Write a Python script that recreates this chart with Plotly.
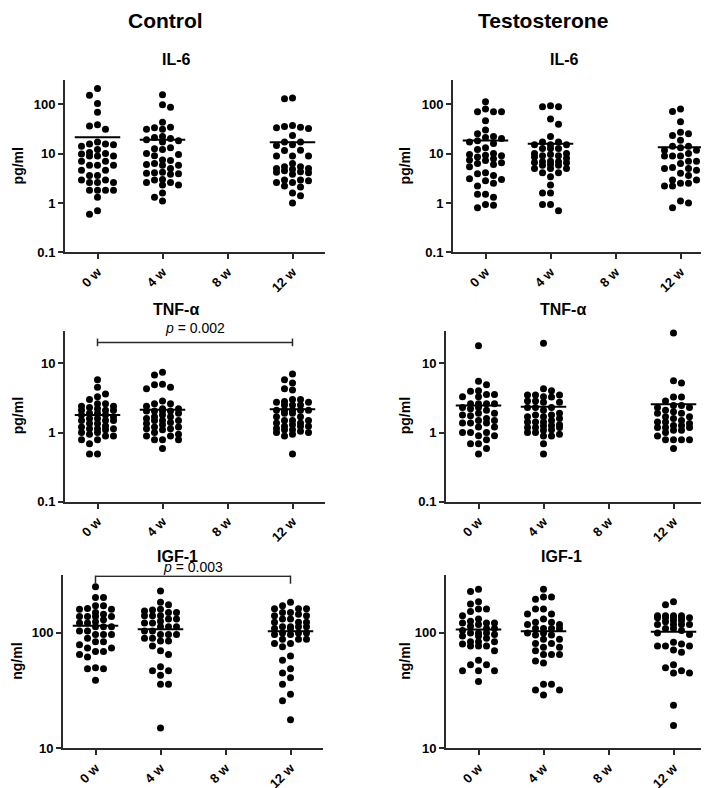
import numpy as np
import plotly.graph_objects as go

W, H = 709, 788

# category axis
WEEKS = ["0 w", "4 w", "8 w", "12 w"]
GROUP_POS = [0, 1, 3]  # 8 w has no measurements

# ---- IL-6 (pg/ml) ----
CTRL_IL6 = [
    [206, 151, 103, 68, 38, 36, 31, 17, 15.5, 15.5, 15, 14, 12, 10.5, 10, 9.8,
     8.9, 8.9, 8.9, 7.0, 7.0, 5.8, 5.8, 5.8, 4.6, 4.6, 3.6, 3.6, 2.9, 2.9,
     2.6, 2.6, 2.6, 1.8, 1.8, 1.8, 1.8, 1.3, 0.70, 0.59],
    [154, 97, 86, 43, 34, 33, 31, 31, 22, 21, 20, 19, 18, 17, 13, 12.5, 12,
     10, 9.5, 9, 7.4, 7.2, 6.3, 6.0, 5.8, 5.8, 5.0, 4.2, 4.1, 4.0, 3.9, 3.8,
     3.0, 2.9, 2.6, 2.6, 2.3, 2.3, 1.6, 1.3, 1.1],
    [132, 128, 37, 35, 34, 33, 32, 23, 17, 17, 15, 14.5, 11.7, 11.5, 8.9, 8.9,
     8.9, 6.3, 5.4, 5.4, 5.0, 5.0, 4.8, 4.5, 4.3, 4.2, 4.1, 3.8, 2.9, 2.9,
     2.8, 2.6, 2.6, 2.2, 2.1, 1.6, 1.4, 1.0],
]
TEST_IL6 = [
    [111, 79, 70, 70, 70, 46, 30, 25, 22, 21, 20, 18, 17, 16, 13, 12, 10, 9.5,
     9.2, 9.0, 8.5, 7.8, 7.4, 7.2, 6.5, 6.3, 6.0, 5.4, 4.1, 3.9, 3.6, 3.1,
     3.0, 2.8, 2.5, 2.2, 1.5, 1.5, 1.3, 0.93, 0.9, 0.8],
    [92, 88, 88, 50, 39, 22, 17, 17, 15, 15, 15, 12.6, 12.6, 12.6, 10, 10,
     9.5, 9, 9, 8.5, 8, 7, 6.8, 6.8, 6.6, 6.5, 6, 5.8, 5.8, 5, 5, 5, 4.1,
     4.1, 3.4, 2.3, 1.6, 1.6, 0.93, 0.93, 0.7],
    [79, 71, 44, 27, 25, 23, 18.5, 14, 14, 13, 11.7, 11.7, 10, 8.9, 8.9, 8.9,
     7, 7, 6.3, 5.2, 5, 5, 4.6, 4, 3.6, 2.9, 2.9, 2.5, 2.5, 2.2, 2.2, 1.1,
     1.0, 0.8],
]

# ---- TNF-alpha (pg/ml) ----
CTRL_TNF = [
    [5.8, 4.5, 3.6, 3.3, 3.0, 2.6, 2.6, 2.4, 2.4, 2.3, 2.2, 2.1, 2.1, 2.1,
     1.9, 1.9, 1.8, 1.8, 1.7, 1.6, 1.6, 1.5, 1.5, 1.5, 1.35, 1.35, 1.25, 1.2,
     1.14, 1.14, 1.14, 1.1, 1.0, 1.0, 0.95, 0.89, 0.89, 0.79, 0.79, 0.69,
     0.49, 0.49],
    [7.4, 6.8, 5.0, 4.9, 4.5, 4.3, 2.85, 2.6, 2.6, 2.4, 2.2, 2.2, 2.05, 2.05,
     2.05, 2.05, 1.9, 1.8, 1.7, 1.7, 1.6, 1.5, 1.5, 1.5, 1.4, 1.35, 1.3, 1.2,
     1.2, 1.14, 1.14, 1.1, 1.0, 0.95, 0.89, 0.89, 0.79, 0.79, 0.79, 0.59],
    [7.0, 5.8, 5.2, 4.3, 4.1, 3.0, 3.0, 2.8, 2.75, 2.75, 2.5, 2.5, 2.5, 2.1,
     2.1, 2.1, 2.1, 2.1, 1.9, 1.9, 1.7, 1.7, 1.5, 1.5, 1.5, 1.38, 1.38, 1.3,
     1.23, 1.23, 1.23, 1.15, 1.1, 1.1, 1.05, 1.0, 1.0, 0.95, 0.89, 0.49],
]
TEST_TNF = [
    [17.9, 5.5, 4.9, 4.0, 3.96, 3.55, 3.55, 3.3, 3.3, 2.6, 2.6, 2.6, 2.6, 2.3,
     2.3, 2.2, 2.1, 1.9, 1.9, 1.8, 1.75, 1.6, 1.5, 1.5, 1.38, 1.38, 1.38, 1.2,
     1.2, 1.0, 1.0, 1.0, 0.9, 0.9, 0.79, 0.69, 0.69, 0.59, 0.49],
    [19.4, 4.3, 4.0, 3.5, 3.5, 3.5, 3.3, 3.25, 2.85, 2.85, 2.75, 2.75, 2.3,
     2.3, 2.3, 2.1, 1.9, 1.8, 1.8, 1.7, 1.7, 1.6, 1.5, 1.42, 1.42, 1.42, 1.3,
     1.27, 1.25, 1.18, 1.18, 1.18, 1.1, 1.08, 1.0, 1.0, 0.95, 0.89, 0.89,
     0.69, 0.49],
    [27.3, 5.6, 5.2, 3.25, 3.25, 2.85, 2.45, 2.45, 2.3, 2.3, 2.1, 2.0, 1.9,
     1.9, 1.7, 1.7, 1.6, 1.5, 1.42, 1.42, 1.35, 1.27, 1.27, 1.18, 1.18, 1.18,
     1.08, 1.08, 1.0, 0.89, 0.79, 0.79, 0.79, 0.79, 0.59],
]

# ---- IGF-1 (ng/ml) ----
CTRL_IGF = [
    [251, 203, 203, 172, 172, 163, 160, 160, 150, 145, 139, 139, 139, 139, 130,
     125, 122, 122, 113, 113, 113, 104, 104, 97, 97, 97, 90, 84, 84, 79, 74,
     74, 69, 69, 65, 62, 50, 49, 49, 39],
    [231, 184, 175, 160, 158, 155, 150, 150, 141, 141, 141, 132, 132, 126,
     122, 122, 113, 113, 113, 104, 104, 97, 97, 97, 90, 90, 85, 85, 77, 70,
     65, 51, 47, 47, 43, 36, 36, 15],
    [184, 172, 162, 162, 162, 150, 150, 145, 141, 141, 132, 132, 124, 124,
     124, 113, 113, 113, 113, 109, 109, 100, 100, 100, 97, 97, 88, 88, 88,
     81, 81, 76, 63, 58, 49, 45, 41, 36, 29.5, 25.8, 17.7],
]
TEST_IGF = [
    [239, 228, 186, 178, 161, 161, 153, 141, 132, 126, 122, 122, 122, 118,
     114, 109, 109, 105, 100, 100, 100, 97, 94, 94, 90, 84, 84, 84, 80, 77,
     77, 77, 70, 58, 53, 53, 47, 47, 47, 38],
    [239, 205, 205, 196, 161, 161, 146, 146, 132, 124, 124, 118, 118, 109,
     109, 109, 109, 100, 100, 96, 96, 88, 88, 81, 81, 75, 75, 70, 65, 65, 65,
     57, 55, 36, 36, 32, 32, 29],
    [186, 175, 141, 141, 141, 141, 135, 135, 135, 135, 135, 128, 128, 125,
     118, 118, 118, 118, 109, 109, 105, 100, 97, 83, 80, 77, 77, 77, 71, 68,
     53, 50, 47, 45, 45, 23.7, 15.8],
]

LOG_TICKS = [0.1, 1, 10, 100]
LOG_TICK_TEXT = ["0.1", "1", "10", "100"]

# panel boxes in pixels: left, right, top, bottom
PANELS = [
    dict(title="IL-6", unit="pg/ml", data=CTRL_IL6, box=(57, 317, 73, 247),
         yr=(-1, 2.48), tx=168, ty=52, lx=10),
    dict(title="IL-6", unit="pg/ml", data=TEST_IL6, box=(445, 705, 73, 247),
         yr=(-1, 2.48), tx=556, ty=52, lx=397),
    dict(title="TNF-α", unit="pg/ml", data=CTRL_TNF, box=(57, 317, 326, 499),
         yr=(-1, 1.47), tx=168, ty=305, lx=10),
    dict(title="TNF-α", unit="pg/ml", data=TEST_TNF, box=(438, 698, 326, 499),
         yr=(-1, 1.47), tx=555, ty=305, lx=397),
    dict(title="IGF-1", unit="ng/ml", data=CTRL_IGF, box=(55, 315, 573, 748),
         yr=(1, 2.5), tx=169, ty=554, lx=9),
    dict(title="IGF-1", unit="ng/ml", data=TEST_IGF, box=(438, 698, 573, 748),
         yr=(1, 2.5), tx=553, ty=554, lx=397),
]

FONT = "Liberation Sans, Arial, sans-serif"
AXIS_COLOR = "#2b2b2b"
DOT = 7


def column_scatter(vals, px_x, px_y, step=8.0, gap=7.0, max_col=2):
    """Prism-style column scatter: points sit in at most 2*max_col+1 columns,
    step px apart; each point goes to the most central column that keeps
    `gap` px clear, otherwise to the column with the most room."""
    ly = np.log10(np.asarray(vals, dtype=float)) * px_y
    cols = {}
    xs = np.zeros(len(ly))
    for n, i in enumerate(np.argsort(-ly, kind="stable")):
        sign = -1 if n % 2 else 1
        order = [0]
        for c in range(1, max_col + 1):
            order += [sign * c, -sign * c]
        room = {c: min([abs(ly[i] - yy) for yy in cols.get(c, [])] + [1e9]) for c in order}
        free = [c for c in order if room[c] >= gap]
        c = free[0] if free else max(order, key=lambda c: room[c])
        cols.setdefault(c, []).append(ly[i])
        xs[i] = c * step
    return xs / px_x


fig = go.Figure()
annotations = []

for k, p in enumerate(PANELS, start=1):
    left, right, top, bottom = p["box"]
    xa = "x" if k == 1 else f"x{k}"
    ya = "y" if k == 1 else f"y{k}"
    px_x = (right - left) / 4.0
    px_y = (bottom - top) / (p["yr"][1] - p["yr"][0])

    for pos, vals in zip(GROUP_POS, p["data"]):
        off = column_scatter(vals, px_x, px_y)
        fig.add_trace(go.Scatter(
            x=pos + off, y=vals, mode="markers", xaxis=xa, yaxis=ya,
            marker=dict(size=DOT, color="black"),
            cliponaxis=False, showlegend=False, hoverinfo="y",
        ))
        m = float(np.mean(vals))
        fig.add_trace(go.Scatter(
            x=[pos - 0.35, pos + 0.35], y=[m, m], mode="lines",
            xaxis=xa, yaxis=ya, line=dict(color="black", width=2),
            showlegend=False, hoverinfo="skip",
        ))

    ticks = [t for t in LOG_TICKS if 10 ** p["yr"][0] - 1e-9 <= t <= 10 ** p["yr"][1]]
    ttext = [LOG_TICK_TEXT[LOG_TICKS.index(t)] for t in ticks]
    axis_common = dict(
        showline=True, linecolor=AXIS_COLOR, linewidth=2, ticks="outside",
        ticklen=5, tickwidth=2, tickcolor=AXIS_COLOR, showgrid=False,
        zeroline=False, tickfont=dict(family=FONT, size=13, color="black", weight="bold"),
    )
    fig.layout[f"xaxis{'' if k == 1 else k}"] = dict(
        domain=[left / W, right / W], anchor=ya, range=[-0.5, 3.5],
        tickvals=[0, 1, 2, 3], ticktext=WEEKS, tickangle=-45, **axis_common,
    )
    fig.layout[f"yaxis{'' if k == 1 else k}"] = dict(
        domain=[1 - bottom / H, 1 - top / H], anchor=xa, type="log",
        range=list(p["yr"]), tickvals=ticks, ticktext=ttext, **axis_common,
    )

    annotations.append(dict(
        text=p["title"], x=p["tx"] / W, y=1 - p["ty"] / H, xref="paper",
        yref="paper", showarrow=False, xanchor="center", yanchor="middle",
        font=dict(family=FONT, size=16, color="black", weight="bold"),
    ))
    annotations.append(dict(
        text=p["unit"], x=p["lx"] / W, y=1 - (top + bottom) / 2 / H,
        xref="paper", yref="paper", showarrow=False, textangle=-90,
        xanchor="center", yanchor="middle",
        font=dict(family=FONT, size=14, color="black", weight="bold"),
    ))

# column headings
for text, cx in [("Control", 157), ("Testosterone", 535)]:
    annotations.append(dict(
        text=text, x=cx / W, y=1 - 13 / H, xref="paper", yref="paper",
        showarrow=False, xanchor="center", yanchor="middle",
        font=dict(family=FONT, size=21, color="black", weight="bold"),
    ))

# significance brackets (0 w vs 12 w, control group)
BRACKETS = [
    dict(xa="x3", ya="y3", y=20, lo=-0.057, hi=0.057, label="<i>p</i> = 0.002", shift=4),
    dict(xa="x5", ya="y5", y=309, lo=-0.065, hi=0.008, label="<i>p</i> = 0.003", shift=-1),
]
for b in BRACKETS:
    y0, y1 = b["y"] * 10 ** b["lo"], b["y"] * 10 ** b["hi"]
    fig.add_trace(go.Scatter(
        x=[0, 0, None, 0, 3, None, 3, 3],
        y=[y0, y1, None, b["y"], b["y"], None, y0, y1],
        mode="lines", xaxis=b["xa"], yaxis=b["ya"],
        line=dict(color=AXIS_COLOR, width=1.5), showlegend=False, hoverinfo="skip",
    ))
    annotations.append(dict(
        text=b["label"], x=1.5, y=np.log10(b["y"]), xref=b["xa"], yref=b["ya"],
        showarrow=False, xanchor="center", yanchor="bottom", yshift=b["shift"],
        font=dict(family=FONT, size=14, color="black"),
    ))

fig.update_layout(
    width=W, height=H, margin=dict(l=0, r=0, t=0, b=0),
    paper_bgcolor="white", plot_bgcolor="white",
    annotations=annotations, showlegend=False,
)

fig.write_html("out.html")
